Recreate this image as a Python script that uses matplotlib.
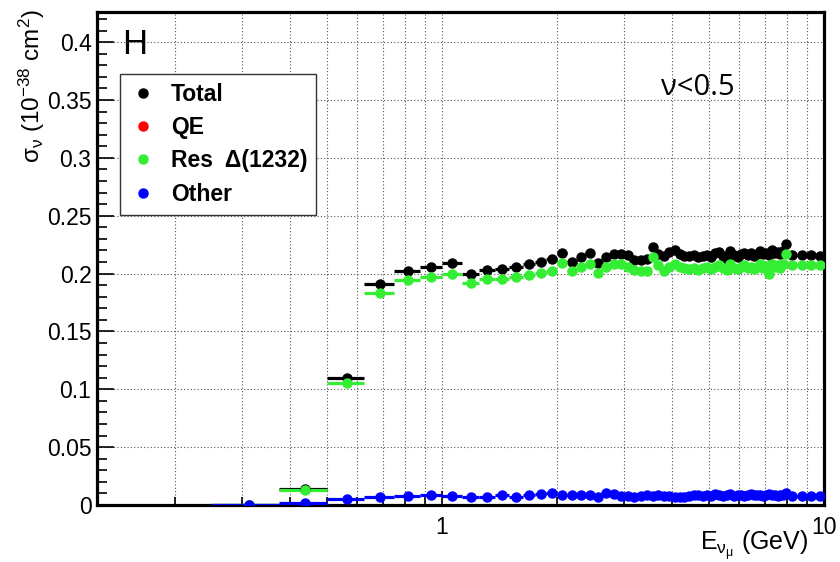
import numpy as np
import matplotlib
matplotlib.use("Agg")
import matplotlib.pyplot as plt
from matplotlib.lines import Line2D
import matplotlib.ticker as ticker

plt.rcParams['font.family'] = ['Liberation Sans', 'DejaVu Sans']
plt.rcParams['mathtext.fontset'] = 'custom'
plt.rcParams['mathtext.rm'] = 'Liberation Sans'
plt.rcParams['mathtext.it'] = 'Liberation Sans'
plt.rcParams['mathtext.bf'] = 'Liberation Sans:bold'
plt.rcParams['mathtext.default'] = 'rm'

# bin edges (GeV): 0.125 wide up to 8 GeV, then 0.5 wide
bin_edges = np.concatenate([np.arange(0.25, 8.0001, 0.125), [8.5, 9.0, 9.5, 10.0]])

# cross sections per bin (10^-38 cm^2)
total = [
    0.0003, 0.0138, 0.1100, 0.1907, 0.2022, 0.2060, 0.2088, 0.1996, 0.2030, 0.2042,
    0.2059, 0.2082, 0.2102, 0.2122, 0.2174, 0.2102, 0.2140, 0.2174, 0.2088, 0.2145,
    0.2168, 0.2168, 0.2160, 0.2117, 0.2117, 0.2122, 0.2226, 0.2165, 0.2150, 0.2185,
    0.2200, 0.2170, 0.2155, 0.2150, 0.2160, 0.2140, 0.2150, 0.2160, 0.2145, 0.2175,
    0.2185, 0.2150, 0.2130, 0.2195, 0.2160, 0.2140, 0.2165, 0.2180, 0.2160, 0.2175,
    0.2150, 0.2170, 0.2195, 0.2165, 0.2180, 0.2160, 0.2200, 0.2175, 0.2185, 0.2165,
    0.2195, 0.2255, 0.2160, 0.2158, 0.2160, 0.2155,
]
res_delta = [
    0.0002, 0.0130, 0.1057, 0.1830, 0.1944, 0.1970, 0.2000, 0.1915, 0.1950, 0.1955,
    0.1970, 0.1987, 0.2001, 0.2022, 0.2094, 0.2022, 0.2060, 0.2082, 0.2001, 0.2060,
    0.2082, 0.2082, 0.2060, 0.2030, 0.2024, 0.2024, 0.2146, 0.2075, 0.2025, 0.2060,
    0.2085, 0.2055, 0.2045, 0.2035, 0.2050, 0.2030, 0.2045, 0.2055, 0.2035, 0.2060,
    0.2075, 0.2045, 0.2030, 0.2085, 0.2050, 0.2035, 0.2055, 0.2070, 0.2045, 0.2060,
    0.2040, 0.2055, 0.2080, 0.2045, 0.2065, 0.2000, 0.2085, 0.2060, 0.2075, 0.2050,
    0.2080, 0.2165, 0.2075, 0.2072, 0.2075, 0.2070,
]
other = [
    0.0003, 0.0015, 0.0050, 0.0072, 0.0074, 0.0090, 0.0080, 0.0072, 0.0072, 0.0086,
    0.0066, 0.0090, 0.0098, 0.0100, 0.0083, 0.0086, 0.0090, 0.0090, 0.0068, 0.0105,
    0.0098, 0.0075, 0.0080, 0.0072, 0.0078, 0.0085, 0.0082, 0.0085, 0.0080, 0.0075,
    0.0070, 0.0065, 0.0072, 0.0080, 0.0085, 0.0090, 0.0082, 0.0088, 0.0080, 0.0092,
    0.0085, 0.0078, 0.0088, 0.0094, 0.0082, 0.0086, 0.0090, 0.0080, 0.0088, 0.0092,
    0.0084, 0.0090, 0.0086, 0.0080, 0.0088, 0.0094, 0.0085, 0.0088, 0.0080, 0.0090,
    0.0085, 0.0100, 0.0080, 0.0075, 0.0080, 0.0082,
]

series_labels = ['Total', 'QE', 'Res  Δ(1232)', 'Other']
series_colors = ['black', '#ff0000', '#33ee33', '#0000ff']

centers = 0.5 * (bin_edges[:-1] + bin_edges[1:])
half_w = 0.5 * (bin_edges[1:] - bin_edges[:-1])

fig = plt.figure(figsize=(8.4, 5.62), dpi=100)
ax = fig.add_axes([97 / 840, 57 / 562, 727 / 840, 493 / 562])

# QE is zero for hydrogen, so only Total, Res and Other get drawn
for vals, col in [(total, series_colors[0]), (res_delta, series_colors[2]), (other, series_colors[3])]:
    ax.errorbar(centers, vals, xerr=half_w, fmt='o', ms=6.5, color=col,
                elinewidth=2.3, capsize=0, zorder=3)

ax.set_xscale('log')
ax.set_xlim(0.125, 10)
ax.set_ylim(0, 0.426)

ax.set_xticks([1, 10])
ax.set_xticklabels(['1', '10'])
ax.xaxis.set_minor_locator(ticker.LogLocator(base=10, subs=np.arange(2, 10)))
ax.xaxis.set_minor_formatter(ticker.NullFormatter())
ax.yaxis.set_major_locator(ticker.MultipleLocator(0.05))
ax.yaxis.set_minor_locator(ticker.MultipleLocator(0.01))
ax.yaxis.set_major_formatter(ticker.FuncFormatter(lambda v, _: '{:g}'.format(round(v, 3))))

ax.tick_params(which='both', direction='in', top=False, right=False, labelsize=16.5, width=1.2)
ax.tick_params(axis='y', which='major', length=12, pad=4)
ax.tick_params(axis='y', which='minor', length=7)
ax.tick_params(axis='x', which='major', length=10, pad=8)
ax.tick_params(axis='x', which='minor', length=6)

ax.xaxis.grid(True, which='both', color='#555555', linestyle=(0, (1, 2)), linewidth=0.8)
ax.yaxis.grid(True, which='major', color='#555555', linestyle=(0, (1, 2)), linewidth=0.8)
ax.set_axisbelow(True)
for sp in ax.spines.values():
    sp.set_linewidth(2.3)

fig.text(808 / 840, 1 - 545 / 562, r'$E_{ν_{μ}}$ (GeV)', ha='right', va='center', fontsize=18)
fig.text(32 / 840, 1 - 9 / 562, r'$σ_{ν}$ (10$^{-38}$ cm$^{2}$)', ha='center', va='top',
         rotation=90, fontsize=17.5)

ax.text(0.034, 0.935, 'H', transform=ax.transAxes, fontsize=25, ha='left', va='center')
ax.text(0.826, 0.846, 'ν<0.5', transform=ax.transAxes, fontsize=21, ha='center', va='center',
        family='Open Sans')

handles = [Line2D([], [], marker='o', linestyle='none', ms=6.5, color=c) for c in series_colors]
leg = ax.legend(handles, series_labels, loc='upper left', bbox_to_anchor=(0.032, 0.875),
                prop={'weight': 'bold', 'size': 16.5}, frameon=True, fancybox=False,
                framealpha=1, edgecolor='#333333', handlelength=1.2, handletextpad=0.6,
                labelspacing=0.45, borderpad=0.4, borderaxespad=0)
leg.get_frame().set_linewidth(1.0)

fig.savefig('out.png', dpi=100)
